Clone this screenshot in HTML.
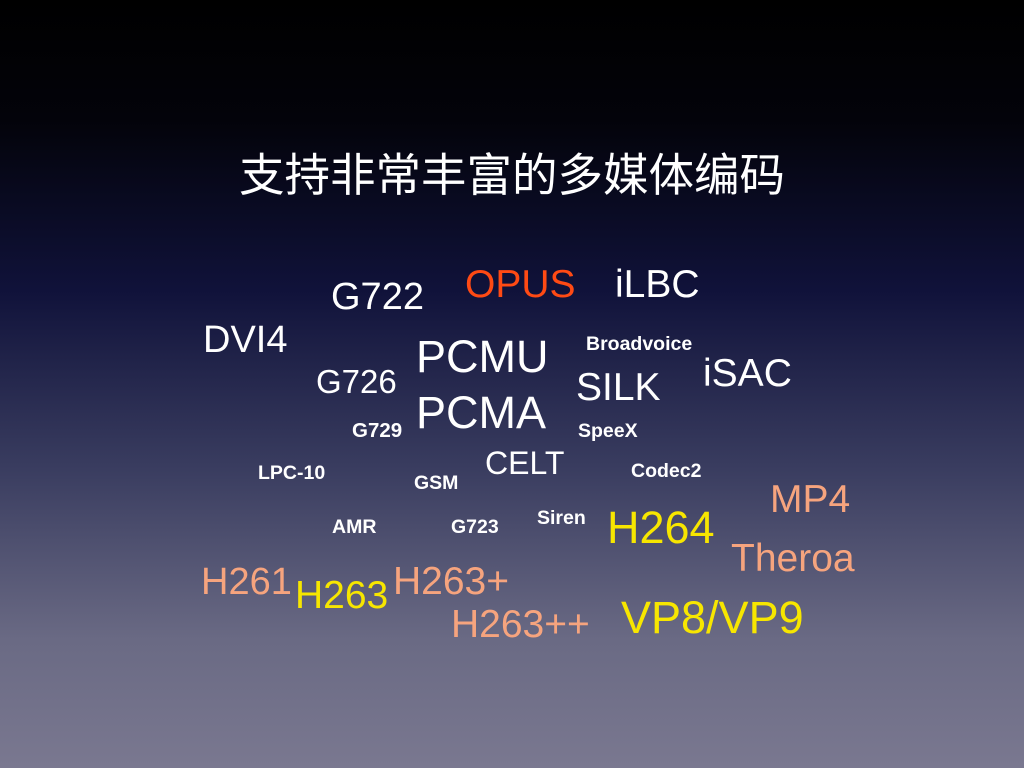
<!DOCTYPE html>
<html><head><meta charset="utf-8"><style>
html,body{margin:0;padding:0}
body{width:1024px;height:768px;position:relative;overflow:hidden;
background:linear-gradient(to bottom,#000 0px,#03030a 120px,#10123a 290px,#3a3d60 470px,#6a6a84 640px,#7a7890 768px);
font-family:"Liberation Sans","Noto Sans CJK SC",sans-serif;}
.t{position:absolute;line-height:1;white-space:nowrap;color:#fff}
.b{font-weight:bold}
.o{color:#ff4a14}.s{color:#f6a47e}.y{color:#f7e600}
</style></head><body>
<div class="t" style="left:239px;top:153px;font-size:45.5px">支持非常丰富的多媒体编码</div>
<div class="t" style="left:331px;top:278px;font-size:38px">G722</div>
<div class="t o" style="left:465px;top:265px;font-size:39px">OPUS</div>
<div class="t" style="left:615px;top:265px;font-size:39px">iLBC</div>
<div class="t" style="left:203px;top:321px;font-size:38px">DVI4</div>
<div class="t" style="left:416px;top:334px;font-size:45px">PCMU</div>
<div class="t" style="left:416px;top:390px;font-size:45px">PCMA</div>
<div class="t" style="left:316px;top:365px;font-size:33px">G726</div>
<div class="t b" style="left:586px;top:335px;font-size:19.5px">Broadvoice</div>
<div class="t" style="left:703px;top:354px;font-size:39px">iSAC</div>
<div class="t" style="left:576px;top:368px;font-size:39px">SILK</div>
<div class="t b" style="left:352px;top:421px;font-size:20.5px">G729</div>
<div class="t b" style="left:578px;top:422px;font-size:19.5px">SpeeX</div>
<div class="t" style="left:485px;top:447px;font-size:32px">CELT</div>
<div class="t b" style="left:258px;top:464px;font-size:19.5px">LPC-10</div>
<div class="t b" style="left:414px;top:474px;font-size:19.5px">GSM</div>
<div class="t b" style="left:631px;top:462px;font-size:19.5px">Codec2</div>
<div class="t s" style="left:770px;top:480px;font-size:39px">MP4</div>
<div class="t b" style="left:332px;top:518px;font-size:19.5px">AMR</div>
<div class="t b" style="left:451px;top:518px;font-size:19.5px">G723</div>
<div class="t b" style="left:537px;top:509px;font-size:19.5px">Siren</div>
<div class="t y" style="left:607px;top:505px;font-size:45px">H264</div>
<div class="t s" style="left:731px;top:539px;font-size:39px">Theroa</div>
<div class="t s" style="left:201px;top:563px;font-size:38px">H261</div>
<div class="t y" style="left:295px;top:576px;font-size:39px">H263</div>
<div class="t s" style="left:393px;top:562px;font-size:39px">H263+</div>
<div class="t s" style="left:451px;top:605px;font-size:39px">H263++</div>
<div class="t y" style="left:621px;top:595px;font-size:45px">VP8/VP9</div>
</body></html>
